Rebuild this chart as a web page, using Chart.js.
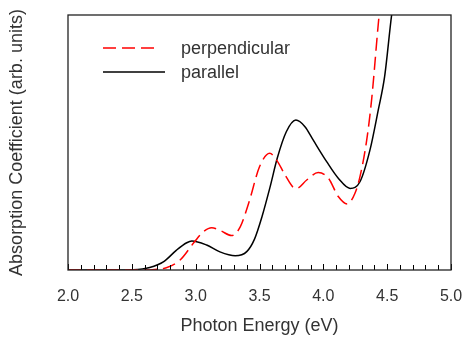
<!DOCTYPE html>
<html>
<head>
<meta charset="utf-8">
<script src="https://cdn.jsdelivr.net/npm/chart.js@4/dist/chart.umd.min.js"></script>
<style>
  html, body { margin: 0; padding: 0; background: #fff; }
  #wrap { width: 469px; height: 341px; }
</style>
</head>
<body>
<div id="wrap"><canvas id="myChart" width="469" height="341"></canvas></div>
<script>
// photon energy (eV) / absorption (arb. units, 0-100 across the plot)
var perpE = [2.0, 2.4, 2.6, 2.68, 2.77, 2.88, 2.99, 3.06, 3.125, 3.2, 3.28, 3.35, 3.42, 3.5, 3.58, 3.634, 3.70, 3.764, 3.79, 3.87, 3.96, 4.04, 4.117, 4.187, 4.247, 4.287, 4.34, 4.378, 4.437, 4.47, 4.5];
var perpA = [0, 0, 0, 0.2, 0.9, 4.0, 11, 15, 16.6, 15.3, 13.5, 17, 27, 40.5, 45.8, 43.1, 37.3, 32.4, 32, 35.3, 38.2, 36, 28.8, 25.9, 30, 36.6, 51, 66.7, 100, 115, 130];

var paraE = [2.0, 2.4, 2.51, 2.64, 2.75, 2.85, 2.93, 2.97, 3.086, 3.19, 3.31, 3.40, 3.46, 3.52, 3.58, 3.64, 3.71, 3.785, 3.856, 3.92, 4.026, 4.117, 4.21, 4.287, 4.365, 4.43, 4.48, 4.535, 4.58, 4.62];
var paraA = [0, 0, 0.1, 1.0, 3.3, 7.8, 10.7, 11.4, 9.8, 7.1, 5.6, 7.2, 12, 21, 32, 44, 54.2, 58.8, 56.2, 51, 42.5, 36, 32, 34.6, 47, 62.7, 75.8, 100, 115, 130];

var xTicks = [2.0, 2.5, 3.0, 3.5, 4.0, 4.5, 5.0];
var seriesNames = ["perpendicular", "parallel"];

function toPoints(xs, ys) {
  var out = [];
  for (var i = 0; i < xs.length; i++) out.push({x: xs[i], y: ys[i]});
  return out;
}

var textColor = "#333";

// frame, inner ticks and legend box
var decor = {
  id: "decor",
  afterDatasetsDraw: function(chart) {
    var ctx = chart.ctx;
    var a = chart.chartArea;
    var xs = chart.scales.x;
    ctx.save();
    // ticks along bottom, pointing inward
    ctx.strokeStyle = "#000";
    ctx.lineWidth = 1;
    for (var v = 20; v <= 50; v++) {
      var px = Math.round(xs.getPixelForValue(v / 10)) + 0.5;
      var len = (v % 5 == 0) ? 6 : 5;
      ctx.beginPath();
      ctx.moveTo(px, a.bottom);
      ctx.lineTo(px, a.bottom - len);
      ctx.stroke();
    }
    // box
    ctx.lineWidth = 1.3;
    ctx.strokeStyle = "#222";
    ctx.strokeRect(a.left, a.top, a.right - a.left, a.bottom - a.top);

    // legend
    var ds = chart.data.datasets;
    var rows = [48, 72];
    ctx.font = "18px 'Liberation Sans', Arial, sans-serif";
    ctx.textBaseline = "middle";
    ctx.fillStyle = textColor;
    for (var i = 0; i < ds.length; i++) {
      ctx.beginPath();
      ctx.strokeStyle = ds[i].borderColor;
      ctx.lineWidth = ds[i].borderWidth;
      ctx.setLineDash(ds[i].borderDash || []);
      ctx.moveTo(103, rows[i]);
      ctx.lineTo(i == 0 ? 160 : 165, rows[i]);
      ctx.stroke();
      ctx.setLineDash([]);
      ctx.fillText(ds[i].label, 181, rows[i] + 1);
    }
    ctx.restore();
  }
};

var totalChart = new Chart("myChart", {
  type: "line",
  data: {
    datasets: [
      {
        label: seriesNames[0],
        data: toPoints(perpE, perpA),
        borderColor: "#ff0000",
        borderWidth: 1.5,
        borderDash: [13, 6],
        pointRadius: 0,
        fill: false,
        cubicInterpolationMode: "monotone"
      },
      {
        label: seriesNames[1],
        data: toPoints(paraE, paraA),
        borderColor: "#000000",
        borderWidth: 1.5,
        pointRadius: 0,
        fill: false,
        cubicInterpolationMode: "monotone"
      }
    ]
  },
  options: {
    responsive: false,
    animation: false,
    devicePixelRatio: 1,
    layout: { padding: { top: 15, right: 18, left: 0, bottom: 0 } },
    plugins: {
      legend: { display: false },
      tooltip: { enabled: false }
    },
    scales: {
      x: {
        type: "linear",
        min: 2.0,
        max: 5.0,
        afterFit: function(s) { s.height = 71; s.paddingLeft = 0; s.paddingRight = 0; },
        afterBuildTicks: function(s) {
          s.ticks = xTicks.map(function(v) { return {value: v}; });
        },
        grid: { display: false, drawTicks: false },
        border: { display: false },
        ticks: {
          padding: 17,
          color: textColor,
          font: { family: "'Liberation Sans', Arial, sans-serif", size: 16 },
          maxRotation: 0,
          callback: function(v) { return Number(v).toFixed(1); }
        },
        title: {
          display: true,
          text: "Photon Energy (eV)",
          color: textColor,
          font: { family: "'Liberation Sans', Arial, sans-serif", size: 18 },
          padding: { top: 0, bottom: 4 }
        }
      },
      y: {
        min: 0,
        max: 100,
        afterFit: function(s) { s.width = 68; s.paddingTop = 0; s.paddingBottom = 0; },
        grid: { display: false, drawTicks: false },
        border: { display: false },
        ticks: { display: false },
        title: {
          display: true,
          text: "Absorption Coefficient (arb. units)",
          color: textColor,
          font: { family: "'Liberation Sans', Arial, sans-serif", size: 18 },
          padding: { top: 6, bottom: 0 }
        }
      }
    }
  },
  plugins: [decor]
});
</script>
</body>
</html>
